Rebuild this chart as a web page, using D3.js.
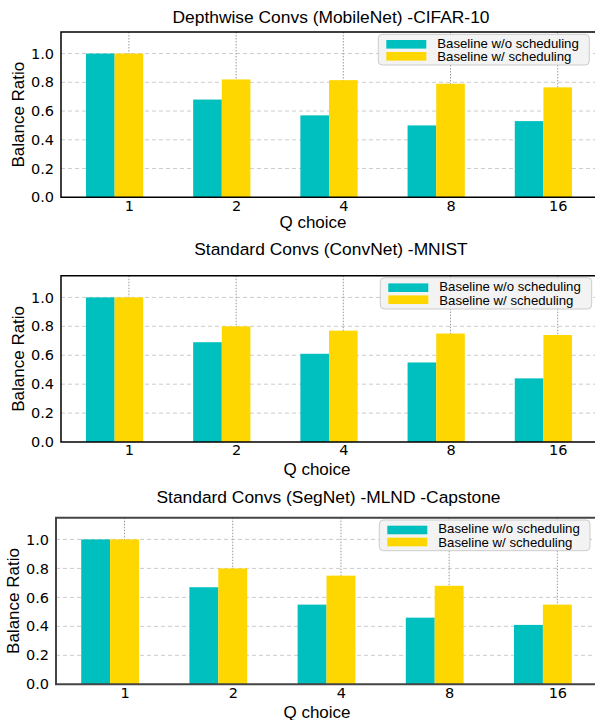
<!doctype html>
<html lang="en">
<head>
<meta charset="utf-8">
<title>Balance Ratio vs Q choice</title>
<style>
  body { margin: 0; background: #fff; }
  text { font-family: "Liberation Sans", Arial, sans-serif; fill: #000; }
  .tick text { font-family: "DejaVu Sans", sans-serif; }
</style>
</head>
<body>
<svg id="chart" width="595" height="720" viewBox="0 0 595 720"></svg>

<script src="https://cdn.jsdelivr.net/npm/d3@7"></script>
<script>
// data
const qChoices = ['1', '2', '4', '8', '16'];
const panelTitles = [
  'Depthwise Convs (MobileNet) -CIFAR-10',
  'Standard Convs (ConvNet) -MNIST',
  'Standard Convs (SegNet) -MLND -Capstone',
];
const seriesNames = ['Baseline w/o scheduling', 'Baseline w/ scheduling'];
const withoutScheduling = [
  [1.0, 0.68, 0.57, 0.50, 0.53],
  [1.0, 0.69, 0.61, 0.55, 0.44],
  [1.0, 0.67, 0.55, 0.46, 0.41],
];
const withScheduling = [
  [1.0, 0.82, 0.815, 0.79, 0.765],
  [1.0, 0.80, 0.77, 0.75, 0.74],
  [1.0, 0.80, 0.75, 0.68, 0.55],
];
const yTicks = [0.0, 0.2, 0.4, 0.6, 0.8, 1.0];

const colors = ['#00bfbf', '#ffd700'];

// layout of each panel (pixels)
const panels = [
  { left: 61, right: 597, top: 32, bottom: 197.3, titleY: 23, xlabX: 313, xlabY: 228, ylabX: 18, spine: '#000', spineW: 1.5,
    legend: { x: 378.3, y: 34.3, w: 211, h: 30.7 } },
  { left: 61, right: 597, top: 275.7, bottom: 442, titleY: 255, xlabX: 317, xlabY: 474.5, ylabX: 18, spine: '#000', spineW: 1.5,
    legend: { x: 380.3, y: 277.7, w: 211.4, h: 31.3 } },
  { left: 56, right: 597, top: 517.7, bottom: 684.3, titleY: 502.5, xlabX: 317, xlabY: 717.5, ylabX: 13.5, spine: '#444', spineW: 2,
    legend: { x: 379.3, y: 520, w: 210.7, h: 30.7 } },
];

const barW = 0.267; // in category units
const svg = d3.select('#chart');

panels.forEach((p, pi) => {
  const g = svg.append('g');
  const x = d3.scaleLinear().domain([-0.5, qChoices.length - 0.5]).range([p.left, p.right]);
  const y = d3.scaleLinear().domain([0, 1.15]).range([p.bottom, p.top]);

  // horizontal grid
  g.append('g').selectAll('line')
    .data(yTicks.filter(d => d > 0))
    .join('line')
    .attr('x1', p.left).attr('x2', p.right)
    .attr('y1', d => y(d)).attr('y2', d => y(d))
    .attr('stroke', '#cccccc').attr('stroke-width', 1)
    .attr('stroke-dasharray', '4,3');

  // vertical dotted grid at tick positions (yellow bar centres)
  g.append('g').selectAll('line')
    .data(qChoices)
    .join('line')
    .attr('x1', (d, i) => x(i + barW / 2)).attr('x2', (d, i) => x(i + barW / 2))
    .attr('y1', p.top).attr('y2', p.bottom)
    .attr('stroke', '#999').attr('stroke-width', 1)
    .attr('stroke-dasharray', '1.5,1.5');

  // bars
  const series = [withoutScheduling[pi], withScheduling[pi]];
  series.forEach((vals, si) => {
    g.append('g').selectAll('rect')
      .data(vals)
      .join('rect')
      .attr('x', (d, i) => x(i - barW + si * barW))
      .attr('width', x(barW) - x(0))
      .attr('y', d => y(d))
      .attr('height', d => y(0) - y(d))
      .attr('fill', colors[si]);
  });

  // spines
  g.append('path')
    .attr('d', `M${p.right},${p.top}H${p.left}V${p.bottom}H${p.right}`)
    .attr('fill', 'none')
    .attr('stroke', p.spine)
    .attr('stroke-width', p.spineW);

  // y axis ticks
  const yAxis = g.append('g')
    .attr('transform', `translate(${p.left},0)`)
    .call(d3.axisLeft(y).tickValues(yTicks).tickFormat(d3.format('.1f')).tickSize(0).tickPadding(7));
  yAxis.select('.domain').remove();
  yAxis.selectAll('text').attr('font-size', 14.5).attr('fill', '#000');

  // x axis ticks
  const xAxis = g.append('g')
    .attr('transform', `translate(0,${p.bottom})`)
    .call(d3.axisBottom(x).tickValues(qChoices.map((d, i) => i + barW / 2))
      .tickFormat((d, i) => qChoices[i]).tickSize(0).tickPadding(3));
  xAxis.select('.domain').remove();
  xAxis.selectAll('text').attr('font-size', 14.5).attr('fill', '#000');

  // title and labels
  g.append('text')
    .attr('x', (p.left + p.right) / 2 + 2).attr('y', p.titleY)
    .attr('text-anchor', 'middle').attr('font-size', 17.4)
    .text(panelTitles[pi]);
  g.append('text')
    .attr('x', p.xlabX).attr('y', p.xlabY)
    .attr('text-anchor', 'middle').attr('font-size', 17)
    .text('Q choice');
  g.append('text')
    .attr('transform', `translate(${p.ylabX},${(p.top + p.bottom) / 2}) rotate(-90)`)
    .attr('text-anchor', 'middle').attr('dominant-baseline', 'central').attr('font-size', 17)
    .text('Balance Ratio');

  // legend
  const L = p.legend;
  const lg = g.append('g').attr('transform', `translate(${L.x},${L.y})`);
  lg.append('rect')
    .attr('width', L.w).attr('height', L.h).attr('rx', 4)
    .attr('fill', '#f2f2f2').attr('fill-opacity', 0.9)
    .attr('stroke', '#cccccc').attr('stroke-width', 1);
  seriesNames.forEach((name, si) => {
    lg.append('rect')
      .attr('x', 8).attr('y', 5.7 + si * 12).attr('width', 40).attr('height', 8.6)
      .attr('fill', colors[si]);
    lg.append('text')
      .attr('x', 59).attr('y', 13.4 + si * 13.5)
      .attr('font-size', 13.2)
      .text(name);
  });
});
</script>
</body>
</html>
